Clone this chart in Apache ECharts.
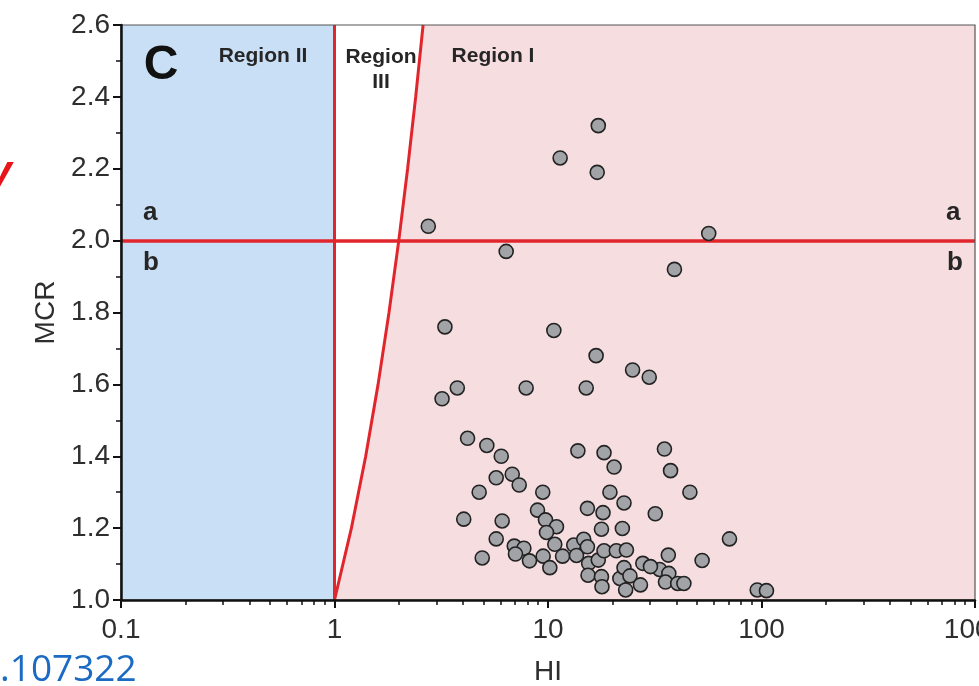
<!DOCTYPE html>
<html><head><meta charset="utf-8">
<script src="https://cdn.jsdelivr.net/npm/echarts@6/dist/echarts.min.js"></script>
<style>html,body{margin:0;padding:0;background:#fff;overflow:hidden}#c{width:979px;height:686px}</style>
</head><body><div id="c"></div>
<script>
// ---- data ----
const hiValues = [17.2,11.4,17.0,2.75,6.37,56.6,39.1,3.29,10.65,16.8,24.9,29.8,3.19,3.76,7.9,15.1,4.20,5.17,6.04,5.72,6.80,7.33,4.76,9.45,13.8,18.3,20.4,19.5,22.7,35.1,37.5,46.2,31.8,70.8,52.7,36.6,33.3,36.8,35.5,40.5,43.3,95.5,105.5,4.03,6.10,5.72,4.92,8.93,9.73,10.96,9.84,10.76,6.95,7.71,7.04,8.19,9.49,10.2,11.7,13.2,14.7,13.6,15.3,15.5,15.4,17.2,18.3,17.8,17.9,20.9,23.3,21.7,22.7,23.1,24.2,27.1,27.8,30.2,15.3,18.1,17.8,22.3];
const mcrValues = [2.32,2.23,2.19,2.04,1.97,2.02,1.92,1.76,1.75,1.68,1.64,1.62,1.56,1.59,1.59,1.59,1.45,1.43,1.40,1.34,1.35,1.32,1.30,1.30,1.415,1.41,1.37,1.30,1.27,1.42,1.36,1.30,1.24,1.17,1.11,1.125,1.085,1.074,1.05,1.046,1.046,1.028,1.026,1.225,1.22,1.17,1.117,1.25,1.223,1.204,1.188,1.155,1.15,1.144,1.128,1.109,1.122,1.09,1.122,1.153,1.169,1.124,1.148,1.102,1.069,1.111,1.137,1.065,1.037,1.137,1.139,1.06,1.09,1.028,1.067,1.042,1.102,1.093,1.255,1.243,1.197,1.199];
const xTickValues = [0.1, 1, 10, 100, 1000];
const xMinorTickValues = [0.2,0.3,0.4,0.5,0.6,0.7,0.8,0.9,2,3,4,5,6,7,8,9,20,30,40,50,60,70,80,90,200,300,400,500,600,700,800,900];
const yMin = 1.0, yMax = 2.6, yStep = 0.2;
const boundaryHI = 1;        // Region II | Region III
const boundaryMCR = 2;       // a / b
// Region III | Region I boundary: HI = MCR
const diagonalHI  = [1.0, 1.2, 1.4, 1.6, 1.8, 2.0, 2.2, 2.4, 2.6];
const diagonalMCR = [1.0, 1.2, 1.4, 1.6, 1.8, 2.0, 2.2, 2.4, 2.6];
const xMin = 0.1, xMax = 1000;

const points = hiValues.map((h, i) => [h, mcrValues[i]]);
const diag = diagonalHI.map((h, i) => [h, diagonalMCR[i]]);
const regionI = diag.concat([[xMax, yMax]]);

const RED = '#e0262c';
const TXT = '#262626';
const FONT = 'Liberation Sans, Arial, sans-serif';
const chart = echarts.init(document.getElementById('c'), null, {renderer: 'canvas'});
chart.setOption({
  animation: false,
  grid: {left: 121, right: 4, top: 25, bottom: 86, containLabel: false, outerBoundsMode: 'none',
    show: true, borderColor: '#555', borderWidth: 1.2, z: 10, backgroundColor: 'transparent'},
  xAxis: [{
    type: 'log', logBase: 10, min: xMin, max: xMax, position: 'bottom', z: 10,
    axisLine: {show: true, lineStyle: {color: '#111', width: 2.5}},
    axisTick: {show: true, inside: false, length: 8, lineStyle: {color: '#111', width: 2}, customValues: xTickValues},
    axisLabel: {show: true, margin: 16, color: '#2e2e2e', fontSize: 28, fontFamily: FONT, hideOverlap: false,
      customValues: xTickValues, formatter: v => String(+(+v).toPrecision(3))},
    splitLine: {show: false}, minorTick: {show: false},
    name: 'HI', nameLocation: 'middle', nameGap: 58,
    nameTextStyle: {color: '#2e2e2e', fontSize: 28, fontFamily: FONT}
  }, {
    type: 'log', logBase: 10, min: xMin, max: xMax, position: 'bottom', z: 10,
    axisLine: {show: false},
    axisTick: {show: true, inside: false, length: 5, lineStyle: {color: '#111', width: 1.5}, customValues: xMinorTickValues},
    axisLabel: {show: false}, splitLine: {show: false}
  }],
  yAxis: {
    type: 'value', min: yMin, max: yMax, interval: yStep, z: 10,
    axisLine: {show: true, lineStyle: {color: '#111', width: 2.5}},
    axisTick: {show: true, length: 8, lineStyle: {color: '#111', width: 2}},
    minorTick: {show: true, splitNumber: 2, length: 5, lineStyle: {color: '#111', width: 1.5}},
    axisLabel: {margin: 11, color: '#2e2e2e', fontSize: 28, fontFamily: FONT, formatter: v => v.toFixed(1)},
    splitLine: {show: false},
    name: 'MCR', nameLocation: 'middle', nameGap: 61,
    nameTextStyle: {color: '#2e2e2e', fontSize: 28, fontFamily: FONT}
  },
  series: [{
    type: 'line', data: regionI, showSymbol: false, silent: true, z: 1,
    lineStyle: {width: 0}, areaStyle: {color: '#f5dde0', opacity: 1, origin: 'start'},
    markArea: {silent: true, itemStyle: {color: '#c9dff5', opacity: 1}, data: [[{xAxis: xMin}, {xAxis: boundaryHI}]]},
    markLine: {silent: true, symbol: 'none', label: {show: false}, z: 3,
      lineStyle: {color: RED, width: 3, type: 'solid'},
      data: [{xAxis: boundaryHI}, {yAxis: boundaryMCR, lineStyle: {color: RED, width: 3.5}}]}
  }, {
    type: 'line', data: diag, showSymbol: false, silent: true, z: 3,
    lineStyle: {color: RED, width: 3}
  }, {
    type: 'scatter', data: points, symbol: 'circle', symbolSize: 14, z: 5,
    itemStyle: {color: '#a2a3a6', borderColor: '#222', borderWidth: 1.6, opacity: 1}
  }],
  graphic: [
    {type: 'text', x: 161, y: 66, z: 20, style: {text: 'C', font: 'bold 48px ' + FONT, fill: '#111', textAlign: 'center', textVerticalAlign: 'middle'}},
    {type: 'text', x: 263, y: 56, z: 20, style: {text: 'Region II', font: 'bold 21px ' + FONT, fill: TXT, textAlign: 'center', textVerticalAlign: 'middle'}},
    {type: 'text', x: 381, y: 45, z: 20, style: {text: 'Region\nIII', font: 'bold 21px ' + FONT, fill: TXT, textAlign: 'center', textVerticalAlign: 'top', lineHeight: 25}},
    {type: 'text', x: 493, y: 56, z: 20, style: {text: 'Region I', font: 'bold 21px ' + FONT, fill: TXT, textAlign: 'center', textVerticalAlign: 'middle'}},
    {type: 'text', x: 143, y: 213, z: 20, style: {text: 'a', font: 'bold 26px ' + FONT, fill: TXT, textVerticalAlign: 'middle'}},
    {type: 'text', x: 143, y: 263, z: 20, style: {text: 'b', font: 'bold 26px ' + FONT, fill: TXT, textVerticalAlign: 'middle'}},
    {type: 'text', x: 946, y: 213, z: 20, style: {text: 'a', font: 'bold 26px ' + FONT, fill: TXT, textVerticalAlign: 'middle'}},
    {type: 'text', x: 947, y: 263, z: 20, style: {text: 'b', font: 'bold 26px ' + FONT, fill: TXT, textVerticalAlign: 'middle'}},
    {type: 'text', x: 0, y: 670, z: 20, style: {text: '.107322', font: '37px Open Sans, Noto Sans, sans-serif', fill: '#1b6ac3', textVerticalAlign: 'middle'}},
    {type: 'text', x: 12, y: 174, z: 20, style: {text: 'y', font: 'italic bold 44px ' + FONT, fill: '#e8141c', textAlign: 'right', textVerticalAlign: 'middle'}}
  ]
});
</script></body></html>
